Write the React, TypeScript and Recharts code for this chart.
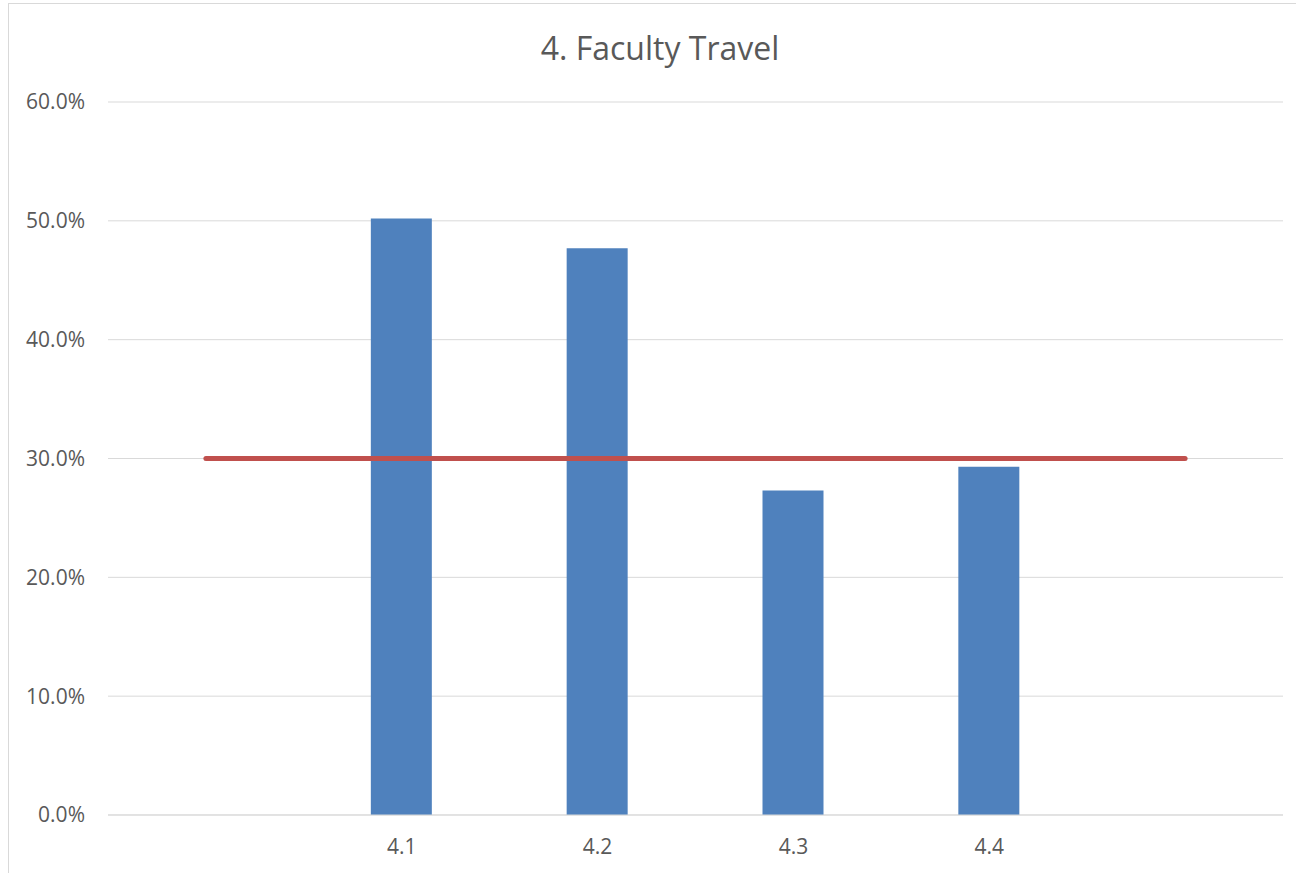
import { Bar, CartesianGrid, ComposedChart, Line, XAxis, YAxis } from 'recharts'

const categories = ['', '4.1', '4.2', '4.3', '4.4', ' ']
const shares = [null, 0.502, 0.477, 0.273, 0.293, null]
const target = [0.3, 0.3, 0.3, 0.3, 0.3, 0.3]
const yTicks = [0, 0.1, 0.2, 0.3, 0.4, 0.5, 0.6]

const data = categories.map((c, i) => ({ cat: c, share: shares[i], target: target[i] }))

const font = '"Open Sans", sans-serif'
const textColor = '#595959'

export default function App() {
  return (
    <div
      style={{
        position: 'absolute',
        left: 8,
        top: 3,
        width: 1300,
        height: 880,
        border: '1px solid #d9d9d9',
        background: '#fff',
        fontFamily: font,
      }}
    >
      <div
        style={{
          position: 'absolute',
          left: 451,
          top: 28,
          width: 400,
          textAlign: 'center',
          fontSize: 32,
          lineHeight: '1',
          color: textColor,
          whiteSpace: 'nowrap',
        }}
      >
        4. Faculty Travel
      </div>
      <ComposedChart
        width={1287}
        height={869}
        data={data}
        margin={{ top: 98, right: 13, bottom: 18, left: 0 }}
      >
        <CartesianGrid vertical={false} stroke="#d9d9d9" />
        <XAxis
          dataKey="cat"
          height={40}
          tickLine={false}
          tickSize={0}
          tickMargin={24}
          axisLine={{ stroke: '#d9d9d9' }}
          tick={{ fill: textColor, fontSize: 21, fontFamily: font }}
        />
        <YAxis
          width={99}
          domain={[0, 0.6]}
          ticks={yTicks}
          axisLine={false}
          tickLine={false}
          tickSize={0}
          tickMargin={23}
          tickFormatter={(v) => (Number(v) * 100).toFixed(1) + '%'}
          tick={{ fill: textColor, fontSize: 21, fontFamily: font }}
        />
        <Bar dataKey="share" fill="#4f81bd" barSize={61} isAnimationActive={false} />
        <Line
          type="linear"
          dataKey="target"
          stroke="#c0504d"
          strokeWidth={5}
          strokeLinecap="round"
          dot={false}
          activeDot={false}
          isAnimationActive={false}
        />
      </ComposedChart>
    </div>
  )
}
